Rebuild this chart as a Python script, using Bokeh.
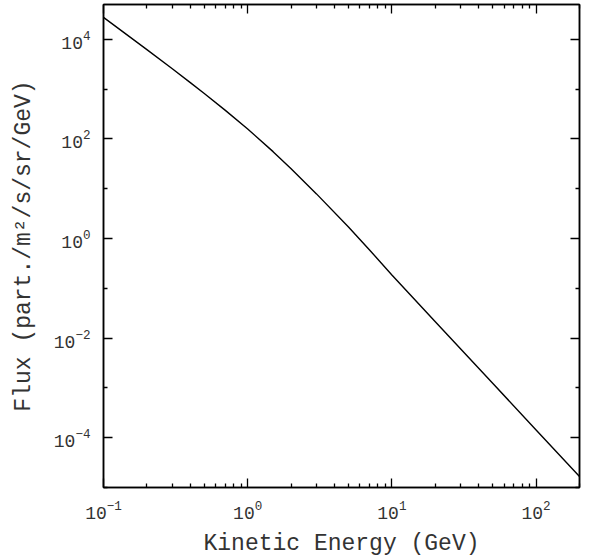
from bokeh.plotting import figure
from bokeh.models import LogAxis, FixedTicker, Range1d
from bokeh.embed import file_html
from bokeh.resources import INLINE

# Data
energy = [0.1, 0.2, 0.3, 0.4, 0.5, 0.7, 1.0, 1.5, 2.0, 3.0, 5.0, 7.0, 10, 20, 50, 100, 200]
flux = [2.75e4, 6.21e3, 2.56e3, 1.35e3, 817, 374, 158, 55.5, 25.2, 7.87, 1.70, 0.589,
        0.185, 0.0214, 1.24e-3, 1.43e-4, 1.66e-5]

x_major = [0.1, 1, 10, 100]
x_minor = [0.2, 0.3, 0.4, 0.5, 0.6, 0.7, 0.8, 0.9,
           2, 3, 4, 5, 6, 7, 8, 9,
           20, 30, 40, 50, 60, 70, 80, 90, 200]
y_major = [1e-4, 1e-2, 1, 1e2, 1e4]
y_minor = [1e-5, 1e-3, 1e-1, 1e1, 1e3]

FONT = "'Courier New', 'Liberation Mono', monospace"
TXT = "#333333"

p = figure(width=591, height=560, x_axis_type="log", y_axis_type="log",
           x_range=Range1d(0.1, 200), y_range=Range1d(1e-5, 5e4),
           output_backend="svg", toolbar_location=None,
           min_border_left=103, min_border_right=12, min_border_top=4, min_border_bottom=73)

p.line(energy, flux, color="black", line_width=1.4)

p.grid.visible = False
p.outline_line_color = "black"
p.outline_line_width = 1.5
p.background_fill_color = "white"
p.border_fill_color = "white"

def style(ax, show_labels):
    ax.axis_line_color = "black"
    ax.axis_line_width = 1.5
    ax.major_tick_in = 9
    ax.major_tick_out = 0
    ax.minor_tick_in = 4
    ax.minor_tick_out = 0
    ax.major_tick_line_color = "black"
    ax.minor_tick_line_color = "black"
    ax.major_tick_line_width = 1.3
    ax.minor_tick_line_width = 1.3
    if show_labels:
        ax.major_label_text_font = FONT
        ax.major_label_text_font_size = "18px"
        ax.major_label_text_color = TXT
        ax.axis_label_text_font = FONT
        ax.axis_label_text_font_size = "23px"
        ax.axis_label_text_font_style = "normal"
        ax.axis_label_text_color = TXT
    else:
        ax.major_label_text_font_size = "1px"
        ax.major_label_text_alpha = 0
        ax.major_label_standoff = 0

xb = p.xaxis[0]
xb.ticker = FixedTicker(ticks=x_major, minor_ticks=x_minor)
xb.axis_label = "Kinetic Energy (GeV)"
xb.major_label_standoff = 12
xb.axis_label_standoff = 9
style(xb, True)

yl = p.yaxis[0]
yl.ticker = FixedTicker(ticks=y_major, minor_ticks=y_minor)
yl.axis_label = "Flux (part./m²/s/sr/GeV)"
yl.major_label_standoff = 13
yl.axis_label_standoff = 14
style(yl, True)

xt = LogAxis(ticker=FixedTicker(ticks=x_major, minor_ticks=x_minor))
style(xt, False)
p.add_layout(xt, "above")

yr = LogAxis(ticker=FixedTicker(ticks=y_major, minor_ticks=y_minor))
style(yr, False)
p.add_layout(yr, "right")

open("out.html", "w").write(file_html(p, INLINE))
